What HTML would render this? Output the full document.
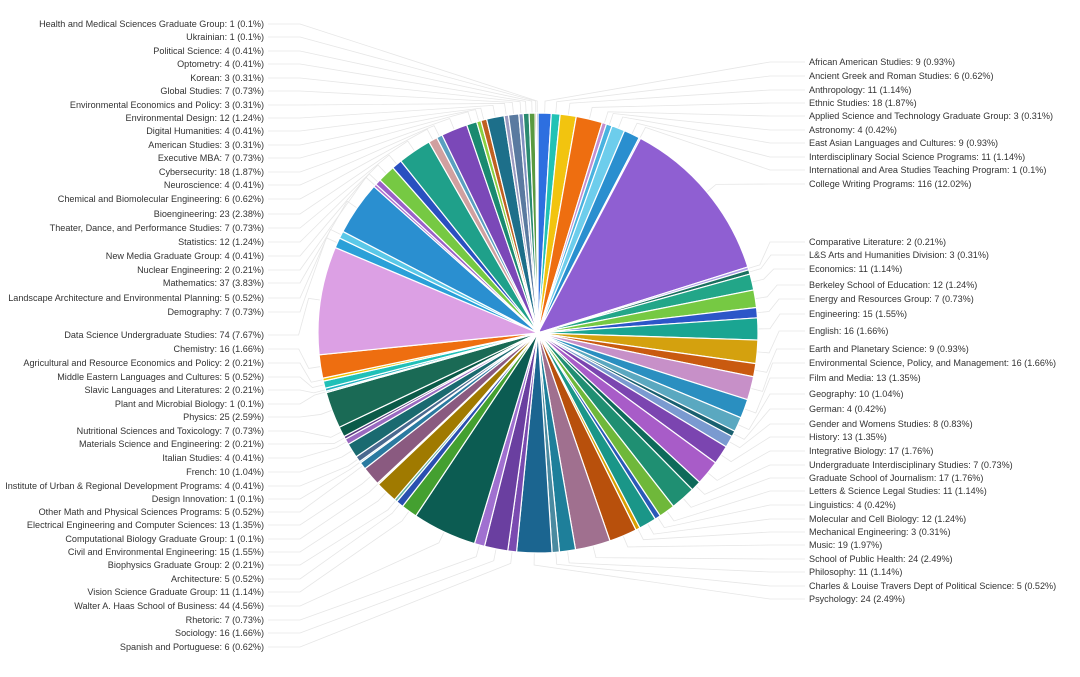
<!DOCTYPE html>
<html><head><meta charset="utf-8"><style>
body{margin:0;background:#fff;}
svg text{font-family:"Liberation Sans",sans-serif;font-size:9.1px;fill:#333;}
</style></head><body>
<svg id="s" width="1080" height="672" xmlns="http://www.w3.org/2000/svg"></svg>
<script>
const R=[["African American Studies",9,"0.93%","#2d6fe0",62],["Ancient Greek and Roman Studies",6,"0.62%","#21c2b5",76],["Anthropology",11,"1.14%","#f2c40f",90],["Ethnic Studies",18,"1.87%","#ee6e10",103],["Applied Science and Technology Graduate Group",3,"0.31%","#c38fd0",116],["Astronomy",4,"0.42%","#4ab3e0",130],["East Asian Languages and Cultures",9,"0.93%","#6dcdec",143],["Interdisciplinary Social Science Programs",11,"1.14%","#2a8fcf",157],["International and Area Studies Teaching Program",1,"0.1%","#b8a8f0",170],["College Writing Programs",116,"12.02%","#8f5fd2",184],["Comparative Literature",2,"0.21%","#b0a0e8",242],["L&S Arts and Humanities Division",3,"0.31%","#1a7060",255],["Economics",11,"1.14%","#22a688",269],["Berkeley School of Education",12,"1.24%","#76c943",285],["Energy and Resources Group",7,"0.73%","#2c56c8",299],["Engineering",15,"1.55%","#1aa592",314],["English",16,"1.66%","#d4a10e",331],["Earth and Planetary Science",9,"0.93%","#c95a10",349],["Environmental Science, Policy, and Management",16,"1.66%","#c790c8",363],["Film and Media",13,"1.35%","#2a8fc0",378],["Geography",10,"1.04%","#5aa8c0",394],["German",4,"0.42%","#1a6070",409],["Gender and Womens Studies",8,"0.83%","#7a9ad0",424],["History",13,"1.35%","#7b45b0",437],["Integrative Biology",17,"1.76%","#a85cc8",451],["Undergraduate Interdisciplinary Studies",7,"0.73%","#0e6a5a",465],["Graduate School of Journalism",17,"1.76%","#1f8f72",478],["Letters & Science Legal Studies",11,"1.14%","#6fb83a",491],["Linguistics",4,"0.42%","#2a5ab8",505],["Molecular and Cell Biology",12,"1.24%","#1a9688",519],["Mechanical Engineering",3,"0.31%","#d9a000",532],["Music",19,"1.97%","#b8500c",545],["School of Public Health",24,"2.49%","#a0708f",559],["Philosophy",11,"1.14%","#1e7f9a",572],["Charles & Louise Travers Dept of Political Science",5,"0.52%","#4a8aa0",586],["Psychology",24,"2.49%","#1b6590",599]];
const L=[["Spanish and Portuguese",6,"0.62%","#7a4bb0",647],["Sociology",16,"1.66%","#6a3fa0",633],["Rhetoric",7,"0.73%","#a070d0",620],["Walter A. Haas School of Business",44,"4.56%","#0c5c52",606],["Vision Science Graduate Group",11,"1.14%","#44a030",592],["Architecture",5,"0.52%","#2a50b0",579],["Biophysics Graduate Group",2,"0.21%","#5fb0a0",565],["Civil and Environmental Engineering",15,"1.55%","#a07a00",552],["Computational Biology Graduate Group",1,"0.1%","#e0c070",539],["Electrical Engineering and Computer Sciences",13,"1.35%","#8a5a80",525],["Other Math and Physical Sciences Programs",5,"0.52%","#2a7aa0",512],["Design Innovation",1,"0.1%","#55aabb",499],["Institute of Urban & Regional Development Programs",4,"0.41%","#4a6a90",486],["French",10,"1.04%","#1a6a70",472],["Italian Studies",4,"0.41%","#9a6ac0",458],["Materials Science and Engineering",2,"0.21%","#5a3a80",444],["Nutritional Sciences and Toxicology",7,"0.73%","#0b5a48",431],["Physics",25,"2.59%","#1a6a55",417],["Plant and Microbial Biology",1,"0.1%","#40b0c0",404],["Slavic Languages and Literatures",2,"0.21%","#1fb0c0",390],["Middle Eastern Languages and Cultures",5,"0.52%","#20c0b8",377],["Agricultural and Resource Economics and Policy",2,"0.21%","#f0c000",363],["Chemistry",16,"1.66%","#ee6e10",349],["Data Science Undergraduate Studies",74,"7.67%","#dca0e4",335],["Demography",7,"0.73%","#2aa0d8",312],["Landscape Architecture and Environmental Planning",5,"0.52%","#5ac8e8",298],["Mathematics",37,"3.83%","#2a8fd0",283],["Nuclear Engineering",2,"0.21%","#b070d0",270],["New Media Graduate Group",4,"0.41%","#9a60c8",256],["Statistics",12,"1.24%","#76c943",242],["Theater, Dance, and Performance Studies",7,"0.73%","#2a50c0",228],["Bioengineering",23,"2.38%","#1fa08a",214],["Chemical and Biomolecular Engineering",6,"0.62%","#d0a0a0",199],["Neuroscience",4,"0.41%","#5aa0c0",185],["Cybersecurity",18,"1.87%","#7b48b8",172],["Executive MBA",7,"0.73%","#1a8a70",158],["American Studies",3,"0.31%","#8ad040",145],["Digital Humanities",4,"0.41%","#c06020",131],["Environmental Design",12,"1.24%","#1d6f8a",118],["Environmental Economics and Policy",3,"0.31%","#9a9ac0",105],["Global Studies",7,"0.73%","#5a7aa0",91],["Korean",3,"0.31%","#8090c0",78],["Optometry",4,"0.41%","#2a8a70",64],["Political Science",4,"0.41%","#5a9a40",51],["Ukrainian",1,"0.1%","#a07020",37],["Health and Medical Sciences Graduate Group",1,"0.1%","#2a6f90",24]];
const all=R.map(d=>[...d,1]).concat(L.map(d=>[...d,0]));
const tot=all.reduce((a,d)=>a+d[1],0);
const cx=538,cy=333,r=220;let a=0,h='',lines='',txt='';
const P=(ang,rr)=>[cx+rr*Math.sin(ang),cy-rr*Math.cos(ang)];
for(const d of all){const a0=a,a1=a+d[1]/tot*2*Math.PI;a=a1;
const p0=P(a0,r),p1=P(a1,r),lg=(a1-a0)>Math.PI?1:0;
h+=`<path d="M${cx},${cy}L${p0[0].toFixed(2)},${p0[1].toFixed(2)}A${r},${r} 0 ${lg} 1 ${p1[0].toFixed(2)},${p1[1].toFixed(2)}Z" fill="${d[3]}" stroke="#fff" stroke-width="1.2"/>`;
const m=(a0+a1)/2,e=P(m,r),o=P(m,r+12),y=d[4];
const esc=d[0].replace(/&/g,'&amp;');
if(d[5]){lines+=`<polyline points="${e[0]},${e[1]} ${o[0]},${o[1]} ${Math.max(o[0]+10,770)},${y} 805,${y}" fill="none" stroke="#e6e6e6" stroke-width="0.8"/>`;
txt+=`<text x="809" y="${y+3}">${esc}: ${d[1]} (${d[2]})</text>`;}
else{lines+=`<polyline points="${e[0]},${e[1]} ${o[0]},${o[1]} ${Math.min(o[0]-10,300)},${y} 268,${y}" fill="none" stroke="#e6e6e6" stroke-width="0.8"/>`;
txt+=`<text x="264" y="${y+3}" text-anchor="end">${esc}: ${d[1]} (${d[2]})</text>`;}}
document.getElementById('s').innerHTML=lines+h+`<circle cx="${cx}" cy="${cy}" r="3" fill="#fff"/>`+txt;
</script>
</body></html>
